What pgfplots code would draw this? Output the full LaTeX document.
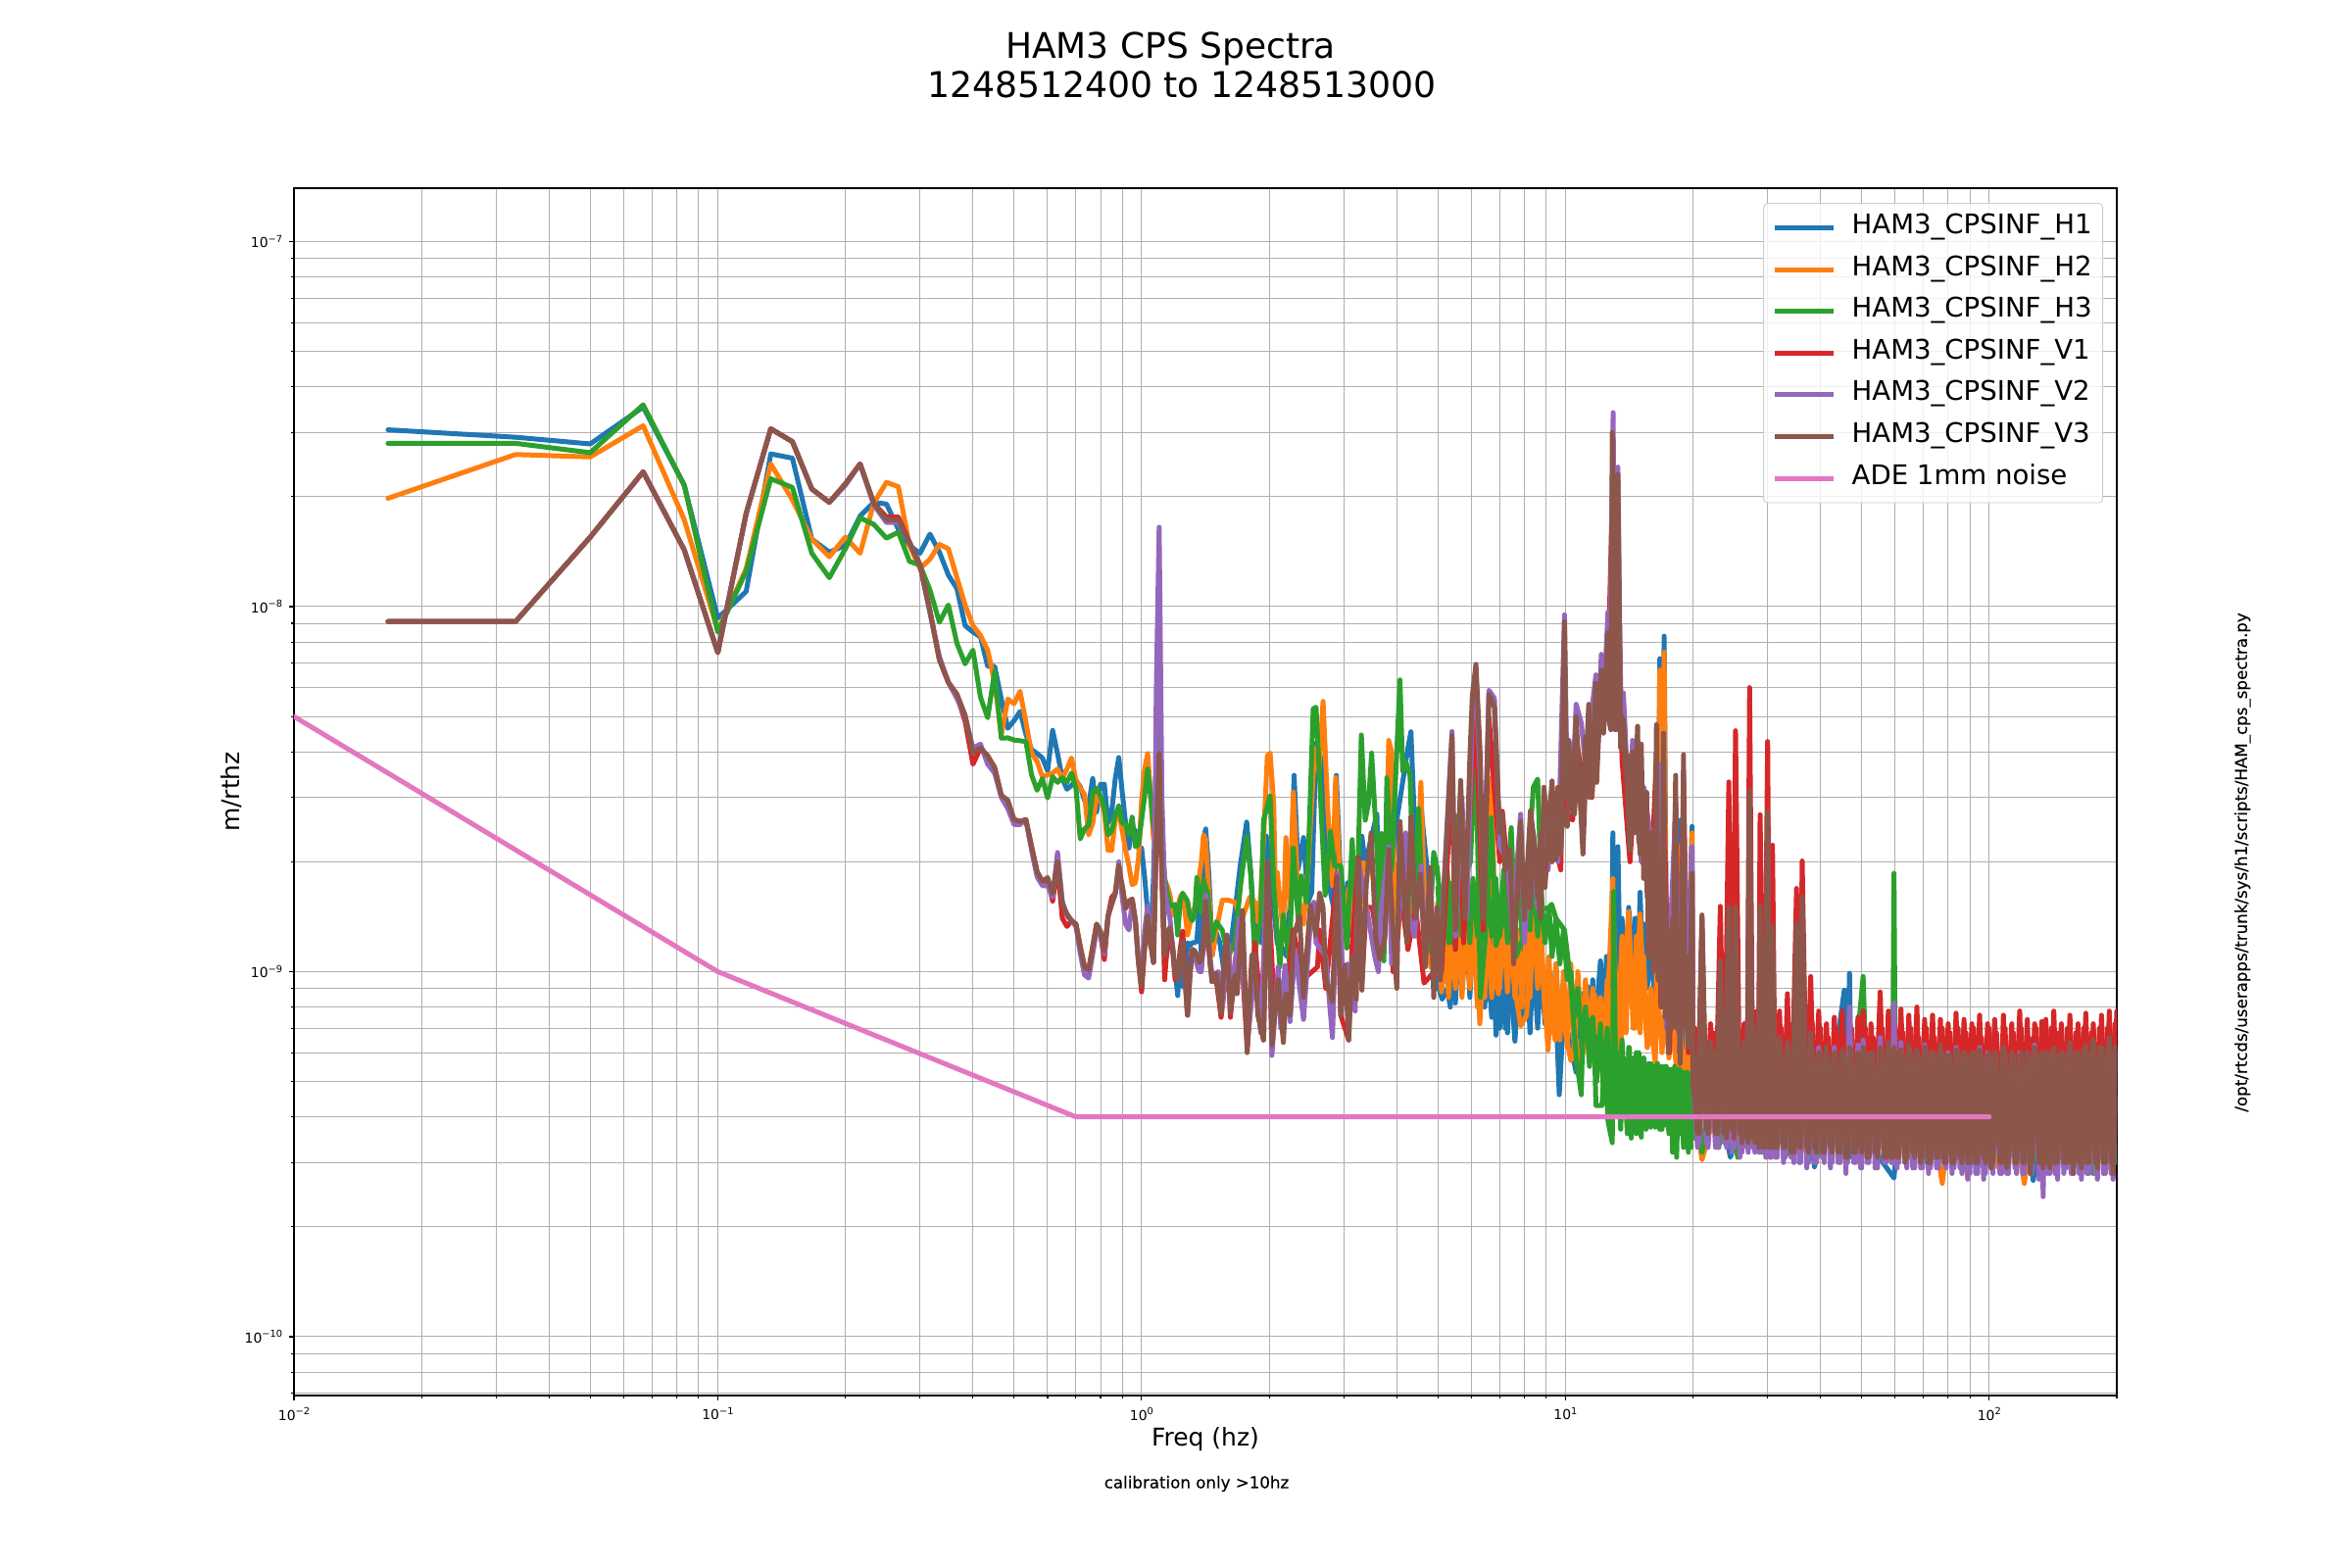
\documentclass[border=0pt]{standalone}
\usepackage{fontspec}
\setmainfont{DejaVu Sans}
\newfontfamily\dbl[FakeBold=0.2]{DejaVu Sans}
\usepackage{pgfplots}
\usepackage{pgfplotstable}
\pgfplotsset{compat=1.18}
\definecolor{cH1}{HTML}{1F77B4}\definecolor{cH2}{HTML}{FF7F0E}\definecolor{cH3}{HTML}{2CA02C}
\definecolor{cV1}{HTML}{D62728}\definecolor{cV2}{HTML}{9467BD}\definecolor{cV3}{HTML}{8C564B}\definecolor{cA}{HTML}{E377C2}
\definecolor{gr}{HTML}{B0B0B0}
\newcommand\tl[1]{10\raisebox{.42em}{\fontsize{4.9}{5}\selectfont #1}}
% k/60 Hz, nm/rtHz
\pgfplotstableread{
k H1 H2 H3 V1 V2 V3
1 30.5 19.8 28.0 9.1 9.1 9.1
2 29.1 26.1 28.0 9.1 9.1 9.1
3 27.9 25.7 26.4 15.5 15.5 15.5
4 35.2 31.3 35.7 23.4 23.4 23.4
5 21.5 17.3 21.5 14.3 14.3 14.3
6 9.3 8.6 8.51 7.48 7.48 7.48
7 11.0 12.7 12.5 18 18 18
8 26.2 24.6 22.4 30.7 30.7 30.7
9 25.5 19.6 21.2 28.3 28.3 28.3
10 15.3 15.3 14.0 21 21 21
11 14.1 13.7 12.0 19.3 19.3 19.3
12 14.7 15.5 14.4 21.7 21.5 21.7
13 17.7 14.0 17.5 24.6 24.6 24.6
14 19.3 19.2 16.8 19.2 19.0 19.2
15 19.1 21.9 15.4 17.6 17.0 17.3
16 16.3 21.3 16.0 17.6 17.0 17.3
17 14.7 14.7 13.3 15 15 15
18 14.0 12.7 13.0 13 13 13
19 15.8 13.5 11.1 9.73 9.6 9.73
20 14.1 14.8 9.06 7.15 7.3 7.15
21 12.2 14.4 10.1 6.2 6.2 6.2
22 11.2 12.0 7.93 5.7 5.6 5.76
23 8.87 10.1 6.97 4.85 5.0 5.04
24 8.52 8.87 7.6 3.7 4.1 3.98
25 8.26 8.34 5.65 4.1 4.2 4.1
26 6.86 7.6 4.96 3.9 3.7 3.9
27 6.86 6.2 6.65 3.6 3.5 3.63
28 5.58 4.45 4.36 3.04 3.0 3.04
29 4.64 5.58 4.37 2.89 2.8 2.95
30 4.87 5.42 4.31 2.61 2.53 2.61
31 5.16 5.86 4.29 2.58 2.53 2.58
32 4.47 4.82 4.27 2.6 2.61 2.61
33 4.06 3.96 3.46 2.2 2.15 2.2
34 3.96 3.77 3.14 1.88 1.82 1.88
35 3.85 3.42 3.38 1.75 1.72 1.77
36 3.55 3.46 2.99 1.78 1.72 1.81
37 4.58 3.5 3.42 1.56 1.6 1.64
38 3.96 3.59 3.3 1.95 2.12 2.0
39 3.38 3.38 3.4 1.4 1.56 1.53
40 3.16 3.59 3.3 1.33 1.42 1.44
41 3.24 3.85 3.5 1.38 1.38 1.38
42 3.34 3.34 3.18 1.35 1.33 1.35
43 3.21 3.18 2.31 1.17 1.12 1.17
44 2.95 3.06 2.46 1.03 .98 1.03
45 2.85 2.37 2.52 1.01 .96 1.01
46 3.38 2.55 3.1 1.17 1.12 1.17
47 2.74 3.03 3.18 1.35 1.3 1.35
48 3.26 2.95 3.03 1.26 1.26 1.29
49 3.26 2.74 2.81 1.08 1.12 1.14
50 2.55 2.15 2.37 1.42 1.42 1.42
51 2.74 2.15 2.43 1.6 1.53 1.53
52 3.38 2.61 2.68 1.64 1.64 1.64
53 3.86 2.74 2.85 1.85 2.0 1.95
54 3.1 2.43 2.55 1.72 1.6 1.72
55 2.55 2.15 2.54 1.49 1.35 1.49
56 2.18 1.95 2.37 1.56 1.3 1.56
57 2.49 1.73 2.65 1.58 1.55 1.58
58 2.43 1.75 2.2 1.38 1.38 1.38
59 2.18 2.05 2.23 1.06 1.06 1.06
60 2.18 2.95 2.61 .88 .95 .91
61 1.81 3.59 3.03 1.17 1.3 1.17
62 1.45 3.96 3.59 1.42 1.51 1.42
63 1.17 3.06 3.03 1.2 1.25 1.2
64 1.81 2.31 2.5 1.06 1.06 1.06
65 3.77 2.95 2.31 2.31 6 2.31
66 6.7 3.77 4.58 3.5 16.5 3.96
67 2.31 2.31 2.31 1.81 3 1.81
68 1.04 1.78 1.81 .95 1.68 1.11
69 1.14 1.72 1.64 1.2 1.5 1.29
70 1.32 1.62 1.53 1.3 1.4 1.32
71 1.17 1.45 1.51 1.15 1.15 1.17
72 1.01 1.42 1.53 .95 1.0 .98
73 .86 1.5 1.26 1.0 .95 .95
74 1.11 1.6 1.56 1.15 1.1 1.11
75 .91 1.64 1.64 1.29 1.2 1.21
76 .94 1.45 1.6 1.0 .94 .94
77 1.2 1.26 1.56 .76 .76 .76
78 1.18 1.35 1.42 .98 .98 .98
79 1.2 1.45 1.38 1.15 1.15 1.15
80 1.2 1.5 1.42 1.14 1.1 1.14
81 1.21 1.56 1.81 1.11 1.05 1.11
82 1.49 1.81 1.6 1.06 1.0 1.06
83 1.11 2.0 1.45 1.08 1.0 1.08
84 2.31 2.37 1.79 1.15 1.2 1.2
85 2.46 2.3 1.7 1.45 1.62 1.56
86 2.05 1.8 1.64 1.26 1.3 1.26
87 1.6 1.49 1.4 1.06 1.1 1.06
88 1.11 1.11 1.22 .94 .98 .94
}\LF
% dense band 5-20 Hz
\pgfplotstableread{
f H1 H2 H3 V3
5 1.3 1.35 1.7 2.3
5.1 .88 .88 1.2 1.25
5.2 1.25 1.4 1.65 2.4
5.3 .85 .85 1.2 1.2
5.4 1.3 1.3 1.75 2.5
5.5 .82 .9 1.15 1.3
5.6 1.2 1.4 1.7 2.6
5.7 .9 .85 1.25 1.25
5.85 1.3 1.35 1.7 2.5
5.95 .85 .9 1.2 1.4
6.05 1.25 1.4 1.8 3.0
6.2 .9 .8 1.25 1.6
6.3 1.2 1.3 1.7 3.2
6.45 .8 .85 1.2 1.5
6.55 1.1 1.4 1.75 3.1
6.7 .75 .85 1.25 1.6
6.85 1.05 1.45 1.8 2.8
7 .7 .9 1.25 1.5
7.15 1.0 1.4 1.9 2.2
7.3 .68 .88 1.2 1.3
7.45 1.05 1.45 1.85 2.1
7.6 .66 .85 1.3 1.25
7.75 1.1 1.3 1.8 2.0
7.9 .72 .8 1.25 1.4
8.1 1.05 1.4 1.75 2.3
8.25 .68 .85 1.3 1.5
8.4 1.1 1.5 1.9 2.4
8.6 .7 .9 1.25 1.6
8.75 1.05 1.4 1.7 2.4
8.95 .72 .75 1.2 1.7
9.15 1.0 1.1 1.5 2.6
9.3 .75 .68 1.1 2.0
9.5 1.05 1.05 1.4 2.7
9.7 .65 .65 1.05 2.1
9.9 .95 1.0 1.3 2.8
10.1 .68 .62 .95 2.5
10.3 .9 1.05 1.0 3.6
10.5 .62 .6 .75 2.7
10.7 .9 1.0 .9 3.8
10.95 .62 .62 .62 2.5
11.15 .92 .95 .8 4.4
11.4 .62 .65 .55 3.0
11.6 .95 .9 .75 4.8
11.85 .6 .68 .5 3.3
12.1 1.0 .85 .72 5.8
12.3 .7 .62 .46 4.5
12.55 1.1 .95 .7 6.5
12.8 .72 .62 .44 4.8
13.05 1.3 1.15 .7 6.3
13.3 .8 .65 .45 4.6
13.6 1.4 1.25 .65 5.0
13.9 .82 .68 .4 3.5
14.15 1.45 1.3 .62 3.9
14.45 .9 .7 .38 2.4
14.7 1.4 1.25 .6 3.7
15 .9 .68 .38 2.1
15.3 1.35 1.1 .58 3.1
15.6 .9 .62 .38 1.6
15.9 1.15 .9 .56 2.4
16.25 .85 .6 .38 1.2
16.55 1.1 .85 .55 2.0
16.9 .85 .6 .37 1.05
17.2 .95 .8 .55 1.6
17.55 .7 .58 .36 .9
17.9 .85 .75 .54 1.4
18.25 .65 .55 .33 .8
18.6 .8 .7 .54 1.2
19 .62 .5 .33 .72
19.4 .75 .65 .53 1.1
19.8 .6 .48 .33 .65
}\MF
% shared high-frequency rows: Hz, V1, V2, V3
\pgfplotstableread{
f V1 V2 V3
20.0 .6 .5 .5
20.5 .38 .33 .36
21.0 1.4 1.3 1.43
21.5 .38 .34 .37
22.0 .72 .62 .64
22.6 .38 .33 .36
23.2 1.51 .9 1.07
23.7 .4 .34 .36
24.3 3.31 1.2 1.5
24.7 .38 .32 .37
25.2 4.57 1.3 1.5
25.8 .36 .31 .36
26.4 .72 .62 .64
26.8 .36 .33 .35
27.2 6.0 2.9 3.13
27.7 .38 .33 .35
28.3 .78 .66 .7
28.5 .37 .33 .34
28.8 2.69 1.4 1.52
29.4 .36 .32 .33
30.0 4.27 2.4 2.74
30.4 .36 .31 .33
30.8 2.22 1.2 1.33
31.3 .36 .31 .33
32.0 .78 .64 .66
32.7 .36 .3 .33
33.4 .87 .6 .64
34.1 .36 .31 .32
35.1 1.69 1.2 1.36
35.6 .36 .3 .33
36.2 2.01 1.4 1.6
37.1 .38 .29 .33
37.9 .97 .62 .68
38.7 .38 .3 .33
39.6 .78 .62 .6
40.4 .38 .31 .32
41.3 .72 .6 .62
42.2 .37 .29 .33
43.1 .75 .62 .6
44.0 .38 .3 .32
45.0 .78 .6 .61
45.9 .36 .28 .31
46.8 .72 .8 .62
47.9 .38 .3 .32
49.0 .75 .63 .6
49.7 .37 .29 .33
50.4 .78 .65 .62
51.5 .36 .3 .31
52.6 .72 .6 .6
53.8 .38 .29 .32
55.3 .88 .66 .62
56.5 .37 .3 .31
57.8 .78 .62 .64
58.7 .36 .3 .31
59.6 .74 .82 .62
60.6 .38 .29 .31
61.9 .79 .64 .61
63.3 .37 .3 .3
64.6 .76 .62 .63
66.0 .38 .29 .32
67.5 .8 .6 .61
68.9 .36 .29 .3
70.4 .74 .63 .62
71.9 .37 .28 .3
73.5 .76 .6 .6
75.1 .36 .29 .31
76.7 .74 .61 .63
78.3 .38 .3 .3
80.0 .72 .6 .59
81.7 .36 .28 .3
83.5 .77 .62 .61
85.3 .37 .29 .31
87.2 .74 .6 .6
89.0 .38 .27 .3
91.0 .72 .59 .6
92.9 .37 .28 .3
94.9 .76 .62 .61
97.0 .36 .27 .31
99.1 .72 .6 .59
101 .38 .29 .29
103 .74 .6 .6
106 .36 .28 .3
108 .76 .62 .62
110 .37 .28 .29
113 .72 .58 .6
115 .36 .29 .3
118 .78 .6 .59
120 .38 .28 .3
123 .74 .6 .6
125 .36 .28 .28
128 .72 .63 .62
131 .37 .27 .3
133 .73 .58 .6
134 .36 .242 .29
136 .74 .6 .6
139 .37 .28 .29
142 .78 .6 .62
145 .37 .27 .3
148 .72 .6 .6
152 .36 .29 .3
155 .76 .63 .64
158 .37 .28 .28
162 .72 .6 .6
165 .36 .27 .29
169 .77 .6 .63
172 .37 .28 .3
176 .72 .64 .65
180 .38 .27 .29
184 .76 .6 .62
188 .37 .28 .3
192 .78 .64 .66
196 .37 .27 .28
200 .78 .6 .62
}\HF
% the rows between them: the band is solid in the reference
\pgfplotstableread{
f V1 V2 V3
20.2 .7 .56 .58
20.7 .4 .34 .36
21.2 .72 .58 .6
21.7 .39 .33 .36
22.3 .68 .56 .6
22.9 .4 .33 .36
23.4 .7 .58 .62
24 .38 .33 .35
24.5 .72 .57 .6
25 .38 .33 .35
25.5 .74 .58 .62
26.1 .38 .32 .34
26.6 .7 .58 .6
27 .37 .32 .34
27.5 .76 .6 .64
28 .38 .32 .34
28.4 .72 .58 .62
28.65 .37 .32 .33
29.1 .74 .58 .6
29.7 .37 .31 .33
30.2 .76 .6 .64
30.6 .37 .31 .33
31 .72 .58 .62
31.6 .37 .31 .33
32.3 .7 .58 .6
33 .37 .31 .33
33.7 .72 .58 .6
34.6 .37 .3 .32
35.3 .74 .58 .6
35.9 .37 .3 .33
36.6 .76 .6 .62
37.5 .38 .3 .32
38.3 .72 .58 .6
39.1 .37 .3 .32
40 .7 .58 .6
40.8 .38 .3 .32
41.7 .66 .56 .59
42.6 .38 .3 .32
43.5 .7 .58 .6
44.5 .37 .3 .32
45.4 .66 .56 .59
46.3 .37 .3 .31
47.3 .7 .58 .61
48.4 .38 .3 .32
49.3 .68 .56 .59
50 .37 .29 .32
51 .7 .58 .6
52 .37 .3 .31
53.2 .66 .56 .6
54.5 .38 .29 .31
55.9 .7 .58 .61
57.1 .37 .3 .31
58.2 .68 .58 .6
59.1 .37 .3 .31
60.1 .7 .57 .6
61.2 .38 .3 .31
62.6 .68 .56 .59
63.9 .37 .29 .31
65.3 .7 .58 .6
66.7 .37 .29 .31
68.2 .66 .56 .59
69.6 .37 .29 .31
71.1 .7 .58 .61
72.7 .37 .29 .3
74.3 .66 .56 .59
75.9 .37 .29 .31
77.5 .7 .58 .6
79.1 .37 .29 .3
80.8 .68 .56 .59
82.6 .37 .29 .3
84.4 .7 .58 .6
86.2 .37 .28 .3
88.1 .68 .56 .59
90 .37 .28 .3
91.9 .7 .58 .6
93.9 .37 .28 .3
95.9 .66 .56 .59
98 .37 .28 .3
100 .7 .58 .6
102 .37 .28 .3
104 .68 .56 .59
107 .37 .28 .3
109 .7 .58 .6
111 .37 .28 .3
114 .68 .56 .59
116 .37 .28 .3
119 .7 .58 .6
121 .37 .28 .3
124 .66 .56 .59
126 .37 .28 .3
129 .7 .58 .6
132 .37 .28 .3
134 .68 .56 .59
137 .37 .28 .3
140 .7 .58 .6
143 .37 .28 .3
146 .68 .56 .59
150 .37 .28 .3
153 .7 .58 .6
156 .37 .28 .3
160 .68 .56 .6
163 .37 .28 .3
167 .7 .58 .61
170 .37 .28 .3
174 .68 .58 .6
178 .37 .28 .3
182 .7 .58 .62
186 .37 .28 .3
190 .7 .6 .62
194 .37 .28 .3
198 .72 .6 .62
}\HFb
\pgfplotsset{
  /pgfplots/table/nm/.style={header=false,x index=0,y expr=\thisrowno{1}*1e-9},
  /pgfplots/table/lf/.style={x expr=\thisrow{k}/60,y expr=\thisrow{#1}*1e-9},
  /pgfplots/table/hr/.style={x=f,y expr=\thisrow{#1}*1e-9},
  sr/.style={color=#1,line width=2.5pt,line join=round,line cap=round,mark=none},
  sh/.style={color=#1,line width=2.5pt,line join=round,line cap=round,mark=none,forget plot},
  sm/.style={sr=#1,forget plot},
}
\begin{document}
\begin{tikzpicture}[x=1pt,y=1pt]
\path[use as bounding box] (0,0) rectangle (1200,800);
\begin{axis}[
  at={(150pt,88pt)},anchor=south west,scale only axis,width=930pt,height=616pt,
  xmode=log,ymode=log,xmin=0.01,xmax=200,ymin=6.9e-11,ymax=1.40e-7,log basis x=10,log basis y=10,
  xtick={0.01,0.1,1,10,100},xticklabels={\tl{−2},\tl{−1},\tl{0},\tl{1},\tl{2}},
  ytick={1e-10,1e-9,1e-8,1e-7},yticklabels={\tl{−10},\tl{−9},\tl{−8},\tl{−7}},
  minor xtick={0.02,0.03,0.04,0.05,0.06,0.07,0.08,0.09,0.2,0.3,0.4,0.5,0.6,0.7,0.8,0.9,2,3,4,5,6,7,8,9,20,30,40,50,60,70,80,90,200},
  minor ytick={7e-11,8e-11,9e-11,2e-10,3e-10,4e-10,5e-10,6e-10,7e-10,8e-10,9e-10,2e-9,3e-9,4e-9,5e-9,6e-9,7e-9,8e-9,9e-9,2e-8,3e-8,4e-8,5e-8,6e-8,7e-8,8e-8,9e-8},
  grid=both,major grid style={gr,line width=.5pt},minor grid style={gr,line width=.5pt},
  tick align=outside,xtick pos=lower,ytick pos=left,
  major tick length=2.43pt,minor tick length=1.4pt,
  tick style={black,line width=.55pt},axis line style={black,line width=.55pt},
  tick label style={font=\fontsize{6.94}{8}\selectfont},
  xlabel={Freq (hz)},ylabel={m/rthz},
  label style={font=\fontsize{12.5}{15}\selectfont},
  xlabel style={at={(axis description cs:.5,0)},anchor=center,yshift=-22.5pt},
  ylabel style={at={(axis description cs:0,.5)},anchor=center,yshift=32pt},
  legend cell align=left,
  legend image code/.code={\draw[#1,line cap=butt](0pt,0pt)--(30pt,0pt);},
  legend style={at={(axis description cs:.9925,.9878)},anchor=north east,draw=black!20,rounded corners=2pt,fill=white,fill opacity=.8,text opacity=1,
    font=\fontsize{13.8}{16}\selectfont,row sep=9.3pt,column sep=7pt,inner xsep=4.5pt,inner ysep=6.5pt,
    nodes={inner sep=1pt,anchor=west,text depth=.2em,text height=.8em}},
]
% H1
\addplot[sr=cH1] table[lf=H1] {\LF};\addlegendentry{HAM3\_CPSINF\_H1}
\addplot[sm=cH1] table[nm] {
1.4667 1.11
1.5 1.28
1.53 1.2
1.57 .97
1.61 1.1
1.66 1.46
1.71 1.96
1.77 2.57
1.81 1.87
1.85 1.26
1.88 1.35
1.92 1.2
1.97 2.35
2.01 1.91
2.09 1.19
2.14 1.17
2.2 1.1
2.24 1.55
2.29 3.45
2.34 1.91
2.41 2.33
2.47 1.55
2.52 1.65
2.58 4.23
2.66 3.77
2.72 2.33
2.77 1.72
2.85 1.46
2.88 3.45
2.94 1.91
3.0 1.23
3.06 1.75
3.11 1.26
3.19 1.24
3.31 2.35
3.37 1.97
3.59 2.7
3.65 1.26
3.85 1.6
4.0 2.6
4.25 4.1
4.32 4.54
4.42 2.3
4.56 2.85
4.73 1.85
4.85 1.03
5.12 .84
5.26 .9
5.35 .8
5.45 1.2
5.64 1.02
5.85 1.49
6.11 1.18
6.28 .85
6.56 .84
6.68 1.49
6.86 .67
7.11 1.07
7.21 .7
7.37 1.1
7.6 .645
7.84 1.18
8.27 .8
8.64 1.18
8.88 .85
9.12 .77
9.45 .93
9.67 .46
9.88 .73
10.14 .68
10.6 .53
10.9 .85
11.3 .91
11.7 .66
12.1 1.07
12.3 .7
12.5 1.1
12.8 .6
12.94 2.4
13.1 .6
13.3 2.2
13.5 .8
13.7 1.2
13.9 .75
14.1 1.5
14.3 .93
14.6 1.4
14.8 .8
15 1.65
15.3 .9
15.5 1.3
16 1.0
16.5 1.1
16.7 7.2
16.85 1.3
17.1 8.3
17.3 1.2
17.6 .9
18 .8
18.7 2.6
18.8 .7
19.2 .6
19.9 2.5
20 .5
}; 
\addplot[sm=cH1] table[hr=H1] {\MF};
\addplot[sh=cH1] table[nm] {
20 .5
21 .34
23 .45
24.5 .31
27 .45
29 .32
32 .45
35 .33
37 .45
38.7 .292
42 .45
45.5 .89
46 .32
46.8 .99
47.5 .31
52 .45
55 .31
59.6 .272
62 .45
70 .3
80 .45
90 .31
100 .45
110 .295
120 .45
127 .268
135 .45
150 .3
170 .45
185 .31
200 .45
};
% H2
\addplot[sr=cH2] table[lf=H2] {\LF};\addlegendentry{HAM3\_CPSINF\_H2}
\addplot[sm=cH2] table[nm] {
1.4667 1.11
1.5 1.3
1.55 1.57
1.6 1.57
1.66 1.55
1.72 1.38
1.8 1.6
1.85 1.55
1.88 1.37
1.91 1.62
1.94 2.3
1.98 3.9
2.01 3.97
2.05 2.89
2.07 1.55
2.09 1.87
2.16 1.26
2.19 2.33
2.24 1.49
2.28 3.1
2.34 1.62
2.41 1.35
2.47 1.91
2.56 4.1
2.62 3.55
2.68 5.5
2.75 2.77
2.82 1.72
2.87 3.4
2.93 1.91
3 1.26
3.08 1.69
3.17 1.23
3.25 1.26
3.33 1.99
3.49 1.9
3.62 1.5
3.75 1.4
3.83 4.3
3.89 4.0
3.94 1.91
4.03 1.26
4.1 1.72
4.3 1.4
4.48 1.9
4.56 3.3
4.64 1.72
4.81 1.03
5.0 1.55
5.26 .93
5.4 1.0
5.5 .98
5.7 1.64
5.85 1.55
5.95 .91
6.11 1.65
6.28 .72
6.45 1.18
6.62 1.65
6.7 3.4
6.86 .93
6.95 .87
7.11 1.43
7.45 1.05
7.84 .71
8.1 .76
8.4 1.68
8.64 1.39
8.88 .9
9.1 .61
9.28 .93
9.45 .65
9.7 .82
10.3 .57
10.6 .65
10.8 .5
11.3 .78
11.7 .87
12 .73
12.3 .62
12.7 1.05
12.94 1.8
13.1 .83
13.5 .58
13.8 1.05
14.1 1.46
14.3 .93
14.6 .7
15 1.44
15.3 .88
15.6 .62
16 .68
16.3 .56
16.7 6.7
16.85 1.2
17.1 7.5
17.3 .9
17.7 .62
18 .75
18.6 2.2
18.75 .55
19.3 .5
19.9 2.4
20 .45
};
\addplot[sm=cH2] table[hr=H2] {\MF};
\addplot[sh=cH2] table[nm] {
20 .45
21 .305
23 .45
25 .33
28 .45
30 .31
34 .45
36 .32
40 .45
44 .33
50 .45
54 .31
60 .45
65 .31
72 .45
77.5 .263
82 .45
89 .272
95 .45
105 .29
112 .45
121 .263
128 .45
140 .285
150 .45
165 .28
175 .45
190 .29
200 .45
};
% H3
\addplot[sr=cH3] table[lf=H3] {\LF};\addlegendentry{HAM3\_CPSINF\_H3}
\addplot[sm=cH3] table[nm] {
1.4667 1.22
1.5 1.37
1.55 1.3
1.6 1.1
1.66 1.2
1.71 1.7
1.77 2.34
1.81 1.83
1.85 1.1
1.88 1.27
1.91 1.37
1.94 2.6
2.01 3.03
2.05 1.72
2.12 1.03
2.16 1.43
2.23 1.07
2.28 2.18
2.34 1.4
2.38 1.83
2.45 1.55
2.49 2.6
2.54 5.25
2.58 5.3
2.63 3.4
2.67 2.35
2.71 1.62
2.79 2.42
2.85 1.95
2.95 1.95
3.05 1.16
3.14 2.3
3.21 1.26
3.3 4.45
3.37 2.6
3.43 2.89
3.49 3.97
3.6 2.07
3.65 1.26
3.68 2.39
3.73 1.07
3.79 3.4
3.89 1.9
3.98 3.5
4.07 6.3
4.13 3.55
4.2 3.77
4.3 3.44
4.4 1.4
4.5 2.8
4.64 1.26
4.75 1.14
4.89 2.12
4.98 1.93
5.07 1.55
5.26 1.9
5.4 1.2
5.56 2.67
5.7 1.3
5.85 1.89
5.97 2.0
6.1 3.76
6.2 2.4
6.3 .85
6.45 1.18
6.68 2.64
6.86 1.18
7.21 1.45
7.45 2.48
7.65 1.1
7.95 1.24
8.4 3.2
8.6 3.37
8.8 1.49
9.1 1.49
9.28 1.53
9.5 1.4
9.95 1.3
10.3 .93
10.6 .58
10.9 .46
11 .74
11.3 .74
11.7 .66
11.8 .43
12.2 .43
12.4 .6
12.6 .39
12.9 .34
13 1.66
13.15 .41
13.3 .6
13.5 .37
13.7 .58
14 .36
14.1 .62
14.3 .35
14.5 .58
14.7 .36
14.9 .6
15.1 .352
15.3 .58
15.5 .37
15.7 .56
15.9 .375
16.1 .55
16.3 .375
16.5 .56
16.7 .37
16.9 .55
17.1 .38
17.3 .55
17.5 .37
17.7 .54
17.9 .32
18.1 .55
18.3 .31
18.5 .54
18.7 .36
18.9 .53
19.1 .34
19.3 .53
19.5 .32
19.8 .52
20 .35
};
\addplot[sm=cH3] table[hr=H3] {\MF};
\addplot[sh=cH3] table[nm] {
20 .35
20.5 .5
21 .32
22 .45
23 .33
24 .45
25.5 .31
27 .45
29 .32
31 .45
33 .31
36 .45
39 .3
42 .45
46 .3
50.4 .97
52 .31
55 .45
59 .31
59.6 1.86
60.2 .31
65 .45
72 .3
80 .45
88 .29
98 .45
108 .3
118 .45
125 .29
140 .45
155 .295
165 .45
176 .28
190 .45
200 .3
};
% V1
\addplot[sr=cV1] table[lf=V1] {\LF};\addlegendentry{HAM3\_CPSINF\_V1}
\addplot[sm=cV1] table[nm] {
1.4667 .94
1.5 .95
1.54 .75
1.6 1.1
1.62 .75
1.7 1.4
1.775 .62
1.85 1.2
1.94 .65
1.98 1.9
2.05 .85
2.16 .75
2.28 1.3
2.4 .95
2.6 1.03
2.63 1.3
2.72 .9
2.89 1.85
2.95 .76
3.08 .65
3.14 1.2
3.25 2.05
3.31 .95
3.39 1.5
3.5 1.5
3.65 1.1
3.75 1.6
3.83 2.0
3.92 1.0
4.1 1.6
4.25 1.15
4.43 1.5
4.64 .93
4.9 1.0
5.1 1.0
5.4 3.5
5.5 1.15
5.66 3.1
5.75 1.2
6.1 4.7
6.15 5.0
6.4 1.3
6.6 5
7 2
7.1 2.75
7.55 1.2
7.84 2.2
8 1.5
8.3 2.4
8.5 1.7
8.9 2.5
9.3 2.4
9.75 1.9
9.95 7
10.1 2.7
10.4 2.6
10.6 4.4
10.95 3.4
11.3 3.9
11.55 3
11.8 4.8
12.15 5.5
12.6 6.5
12.9 20
13.3 15
13.6 3.8
14.2 2.0
14.8 4.3
15.3 2.1
15.9 1.6
16.4 4.0
16.8 .8
17.05 3.2
17.6 .6
18.2 3.0
18.6 .6
19 3.4
19.5 .6
19.9 1.5
20 .6
};
\addplot[sh=cV1] table[hr=V1] {\HF};
\addplot[sh=cV1] table[hr=V1] {\HFb};
% V2
\addplot[sr=cV2] table[lf=V2] {\LF};\addlegendentry{HAM3\_CPSINF\_V2}
\addplot[sm=cV2] table[nm] {
1.4667 .98
1.52 1.0
1.55 .8
1.6 1.2
1.64 .85
1.7 1.4
1.78 .65
1.85 1.03
1.91 .68
1.98 2.0
2.03 .59
2.1 1.03
2.13 .7
2.18 1.04
2.24 .73
2.3 1.15
2.41 .74
2.49 1.26
2.55 1.55
2.58 1.2
2.72 1.1
2.82 .66
2.9 1.85
2.98 1.0
3.06 1.05
3.19 .78
3.25 2.0
3.43 1.4
3.55 1.1
3.62 1.0
3.68 1.5
3.83 2.2
3.89 1.05
4 1.2
4.2 2.4
4.25 1.45
4.4 1.25
4.57 1.95
4.67 1.05
4.8 1.9
4.9 1.0
5.1 1.3
5.4 4.55
5.5 1.25
5.7 3.0
5.85 1.4
6.03 5.0
6.15 6.5
6.3 3.3
6.4 1.45
6.6 5.9
6.8 5.6
7 2.2
7.3 2.0
7.5 1.3
7.84 2.7
8 1.2
8.3 2.4
8.6 1.5
8.9 2.8
9.1 1.9
9.3 2.9
9.6 2.0
9.95 9.5
10.1 3.0
10.2 4.3
10.4 3.2
10.6 5.4
10.9 4.8
11.2 3.5
11.5 5.0
11.8 6.5
12 5
12.15 7.4
12.4 6.5
12.6 9.66
12.7 5.5
12.96 34
13.1 5
13.3 24.1
13.5 5.2
13.7 5.8
14 3.4
14.2 2.3
14.4 4.3
14.6 2.6
14.9 4.0
15.1 2.0
15.3 3.2
16 2.2
16.3 1.1
16.5 1.2
16.7 3.7
16.85 1.2
17.05 3.0
17.3 .7
18.2 2.8
18.6 .6
19 2.8
19.5 .7
19.9 2.2
20 .5
};
\addplot[sh=cV2] table[hr=V2] {\HF};
\addplot[sh=cV2] table[hr=V2] {\HFb};
% V3
\addplot[sr=cV3] table[lf=V3] {\LF};\addlegendentry{HAM3\_CPSINF\_V3}
\addplot[sm=cV3] table[nm] {
1.4667 .94
1.5 .99
1.54 .77
1.57 1.11
1.59 1.26
1.62 .77
1.66 .98
1.68 .87
1.73 1.47
1.775 .6
1.82 1.11
1.85 1.12
1.88 .76
1.94 .65
1.98 2.0
2.03 .63
2.1 .95
2.16 .64
2.19 .87
2.24 .76
2.28 1.24
2.36 1.42
2.41 .85
2.5 1.52
2.58 1.26
2.63 1.64
2.68 1.5
2.72 .95
2.82 .83
2.89 1.82
2.95 .76
3.02 1.04
3.08 .65
3.14 1.1
3.21 .84
3.25 2.03
3.31 .89
3.39 1.74
3.48 2.4
3.57 1.23
3.65 1.08
3.75 1.23
3.83 2.16
3.92 1.3
4 .9
4.07 2.58
4.17 1.6
4.23 1.2
4.32 2.66
4.43 1.4
4.55 1.85
4.67 1.03
4.79 1.93
4.89 .85
4.98 1.5
5.07 .95
5.2 1.9
5.4 4.43
5.5 1.3
5.66 3.34
5.8 1.4
5.95 3.85
6.03 5.7
6.15 6.95
6.3 3.85
6.4 1.39
6.6 5.75
6.8 5.3
7 2.4
7.1 2.7
7.2 1.9
7.4 2.15
7.55 1.05
7.84 2.58
8 1.39
8.27 2.76
8.47 2.2
8.73 1.4
8.9 3.2
9.1 2.4
9.3 3.33
9.5 2.03
9.6 3.2
9.75 2.1
9.95 9.1
10.05 2.98
10.15 4.3
10.4 3.1
10.6 5
10.8 3.2
11 2.1
11.2 3.85
11.35 5.4
11.55 3.03
11.8 6.17
11.95 4.3
12.15 6.7
12.4 5.6
12.6 8.5
12.65 4.9
12.8 4.6
12.9 30
13.1 4.6
13.3 23
13.5 4.1
13.7 4.9
14 3.2
14.2 2.15
14.4 4.0
14.55 2.4
14.8 4.7
14.9 2.26
15.1 4.2
15.3 1.8
15.55 3.1
15.7 1.1
15.9 1.8
16.1 1.0
16.25 1.6
16.4 4.75
16.55 .95
16.7 1.6
16.85 .8
17.05 4.5
17.2 .75
17.35 1.2
17.5 .6
17.7 1.1
17.85 .7
18 1.2
18.2 3.45
18.35 .7
18.5 1.1
18.65 .56
18.8 1.2
19 3.93
19.15 .7
19.35 1.0
19.5 .62
19.7 .95
19.9 1.86
20 .5
};
\addplot[sm=cV3,skip coords between index={0}{25}] table[hr=V3] {\MF};
\addplot[sh=cV3] table[hr=V3] {\HF};
\addplot[sh=cV3] table[hr=V3] {\HFb};
% ADE
\addplot[sr=cA] coordinates {(0.01,5e-9)(0.1,1e-9)(0.7,4e-10)(100,4e-10)};\addlegendentry{ADE 1mm noise}
\end{axis}
\node[font=\fontsize{18}{22}\selectfont] at (597.3,775) {HAM3 CPS Spectra};
\node[font=\fontsize{18.1}{22}\selectfont] at (603,757) {1248512400 to 1248513000};
\node[font=\dbl\fontsize{8.33}{10}\selectfont] at (610.5,43) {calibration only >10hz};
\node[font=\dbl\fontsize{8.33}{10}\selectfont,rotate=90] at (1144.2,360) {/opt/rtcds/userapps/trunk/sys/h1/scripts/HAM\_cps\_spectra.py};
\end{tikzpicture}
\end{document}
